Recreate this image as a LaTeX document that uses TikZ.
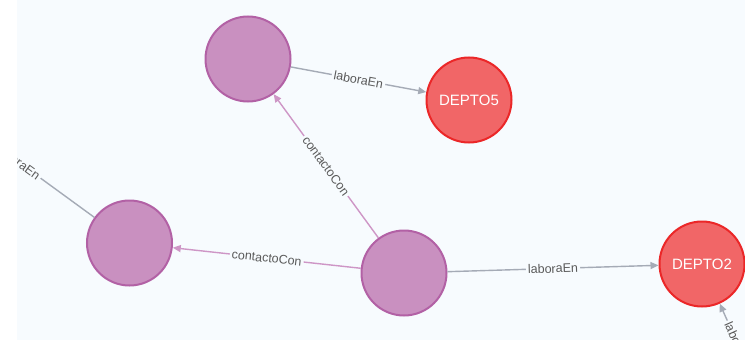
\documentclass[tikz,border=0pt]{standalone}
\usepackage{fontspec}
\setmainfont{Liberation Sans}
\usetikzlibrary{arrows.meta}
\definecolor{bg}{RGB}{247,251,254}
\definecolor{pfill}{RGB}{201,144,192}
\definecolor{pdraw}{RGB}{178,97,165}
\definecolor{rfill}{RGB}{241,102,103}
\definecolor{rdraw}{RGB}{235,39,40}
\definecolor{egray}{RGB}{165,171,182}
\definecolor{epink}{RGB}{206,150,198}
\definecolor{ltext}{RGB}{90,90,90}
\begin{document}
\begin{tikzpicture}[x=1pt,y=-1pt,
 person/.style={circle,draw=pdraw,fill=pfill,line width=2pt,minimum size=85pt,inner sep=0pt},
 dept/.style={circle,draw=rdraw,fill=rfill,line width=2pt,minimum size=85pt,inner sep=0pt,text=white,font=\fontsize{15}{15}\selectfont},
 rel/.style={line width=1.4pt,-{Triangle[length=8pt,width=7pt]}},
 relgray/.style={rel,draw=egray,color=egray},
 relpink/.style={rel,draw=epink,color=epink},
 lab/.style={fill=bg,text=ltext,font=\fontsize{12.5}{12.5}\selectfont,inner sep=2pt,sloped,midway}]
\useasboundingbox (0,0) rectangle (745,340);
\fill[bg] (0,0) rectangle (745,340);
\begin{scope}
\clip (0,0) rectangle (745,340);
\node[person] (ptop) at (248,59) {};
\node[person] (pleft) at (129.5,243) {};
\node[person] (pbot) at (404,273) {};
\node[dept] (d5) at (469,100) {DEPTO5};
\node[dept] (d2) at (702,264) {DEPTO2};
\coordinate (farleft) at (-57,107);
\coordinate (farright) at (757,387);
\draw[relgray] (ptop) -- node[lab] {laboraEn} (d5);
\draw[relpink] (pbot) -- node[lab] {contactoCon} (ptop);
\draw[relpink] (pbot) -- node[lab] {contactoCon} (pleft);
\draw[relgray] (pbot) -- node[lab] {laboraEn} (d2);
\draw[relgray] (pleft) -- node[lab] {laboraEn} (farleft);
\draw[relgray] (farright) -- node[lab] {laboraEn} (d2);
\end{scope}
\fill[white] (0,0) rectangle (17,340);
\end{tikzpicture}
\end{document}
